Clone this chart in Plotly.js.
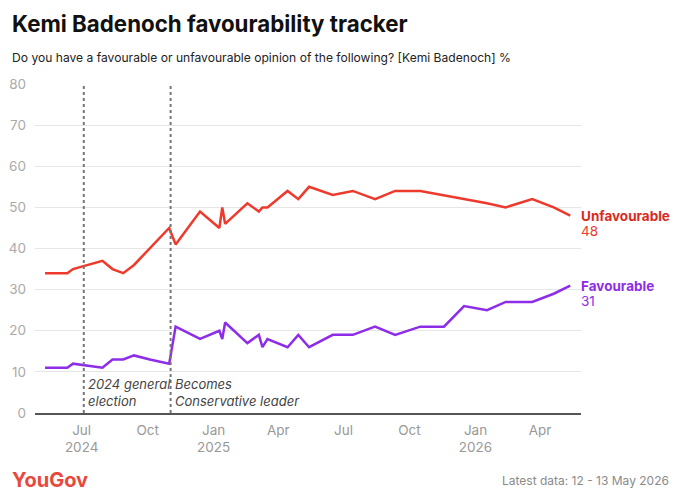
<!DOCTYPE html>
<html>
<head>
<meta charset="utf-8">
<script src="https://cdn.plot.ly/plotly-3.0.1.min.js"></script>
<style>
html,body{margin:0;padding:0;background:#fff;}
#chart{width:680px;height:502px;}
</style>
</head>
<body>
<div id="chart"></div>
<script>
const dates = ['2024-05-11','2024-06-11','2024-06-19','2024-07-30','2024-08-13','2024-08-28','2024-09-12','2024-10-04','2024-10-31','2024-11-09','2024-12-13','2025-01-09','2025-01-13','2025-01-17','2025-02-17','2025-03-05','2025-03-10','2025-03-17','2025-04-14','2025-04-29','2025-05-14','2025-06-16','2025-07-14','2025-08-14','2025-09-11','2025-10-16','2025-11-18','2025-12-16','2026-01-17','2026-02-12','2026-03-21','2026-04-20','2026-05-13'];
const unfavourable = [34,34,35,37,35,34,36,40,45,41,49,45,50,46,51,49,50,50,54,52,55,53,54,52,54,54,53,52,51,50,52,50,48];
const favourable = [11,11,12,11,13,13,14,13,12,21,18,20,18,22,17,19,16,18,16,19,16,19,19,21,19,21,21,26,25,27,27,29,31];
const tickDates = ['2024-07-01','2024-10-01','2025-01-01','2025-04-01','2025-07-01','2025-10-01','2026-01-01','2026-04-01'];
const tickLabels = ['Jul<br>2024','Oct','Jan<br>2025','Apr','Jul','Oct','Jan<br>2026','Apr'];
const events = ['2024-07-04','2024-11-02'];
const eventLabels = ['2024 general<br>election','Becomes<br>Conservative leader'];
const seriesNames = ['Unfavourable','Favourable'];

const RED = '#EE3A2C', PURPLE = '#8E2DE8';
const FONT = 'Inter, "Noto Sans", sans-serif';

const traces = [
  {x: dates, y: unfavourable, name: seriesNames[0], mode: 'lines', line: {color: RED, width: 2.5}},
  {x: dates, y: favourable, name: seriesNames[1], mode: 'lines', line: {color: PURPLE, width: 2.5}}
];

const lastI = dates.length - 1;
const annotations = [
  {xref:'paper', yref:'paper', x:-0.045, y:1.185, xanchor:'left', yanchor:'middle', showarrow:false,
   text:'<b>Kemi Badenoch favourability tracker</b>', font:{family:FONT, size:22.3, color:'#111'}},
  {xref:'paper', yref:'paper', x:-0.045, y:1.082, xanchor:'left', yanchor:'middle', showarrow:false,
   text:'Do you have a favourable or unfavourable opinion of the following? [Kemi Badenoch] %', font:{family:FONT, size:12.1, color:'#222'}},
  {x: dates[lastI], y: unfavourable[lastI], xanchor:'left', yanchor:'middle', xshift:9, showarrow:false,
   text:'<b>'+seriesNames[0]+'</b>', font:{family:FONT, size:13.5, color:'#D92A1E'}},
  {x: dates[lastI], y: unfavourable[lastI], xanchor:'left', yanchor:'middle', xshift:9, yshift:-15, showarrow:false,
   text:String(unfavourable[lastI]), font:{family:FONT, size:13.5, color:RED}},
  {x: dates[lastI], y: favourable[lastI], xanchor:'left', yanchor:'middle', xshift:9, showarrow:false,
   text:'<b>'+seriesNames[1]+'</b>', font:{family:FONT, size:13.5, color:PURPLE}},
  {x: dates[lastI], y: favourable[lastI], xanchor:'left', yanchor:'middle', xshift:9, yshift:-15, showarrow:false,
   text:String(favourable[lastI]), font:{family:FONT, size:13.5, color:PURPLE}},
  {xref:'paper', yref:'paper', x:-0.045, y:-0.204, xanchor:'left', yanchor:'middle', showarrow:false,
   text:'<b>YouGov</b>', font:{family:FONT, size:20, color:'#E8493C'}},
  {xref:'paper', yref:'paper', x:1.165, y:-0.204, xanchor:'right', yanchor:'middle', showarrow:false,
   text:'Latest data: 12 - 13 May 2026', font:{family:FONT, size:12, color:'#8a8a8a'}}
];
events.forEach((d,i)=>{
  annotations.push({x:d, y:0, yref:'y', xanchor:'left', yanchor:'bottom', xshift:2, yshift:2, showarrow:false,
    align:'left', text:'<i>'+eventLabels[i]+'</i>', font:{family:FONT, size:13, color:'#444'}});
});

const shapes = events.map(d=>({type:'line', xref:'x', yref:'y', x0:d, x1:d, y0:0, y1:80,
  line:{color:'#777', width:2, dash:'dot'}, layer:'above'}));

const layout = {
  width:680, height:502,
  margin:{l:35, r:99, t:84, b:89},
  paper_bgcolor:'#fff', plot_bgcolor:'#fff',
  showlegend:false,
  font:{family:FONT, color:'#999'},
  xaxis:{type:'date', range:['2024-04-27','2026-05-28'], tickvals:tickDates, ticktext:tickLabels,
    showgrid:false, showline:true, linecolor:'#555', linewidth:1.5, ticks:'', ticklabelstandoff:4,
    tickfont:{family:FONT, size:13.5, color:'#999'}, zeroline:false, fixedrange:true},
  yaxis:{range:[0,80], tickvals:[0,10,20,30,40,50,60,70,80], showgrid:true, gridcolor:'#e6e6e6', gridwidth:1,
    zeroline:false, showline:false, ticks:'', ticklabelstandoff:8,
    tickfont:{family:FONT, size:13.5, color:'#aaa'}, fixedrange:true},
  annotations: annotations,
  shapes: shapes
};

Plotly.newPlot('chart', traces, layout, {displayModeBar:false, staticPlot:true});
</script>
</body>
</html>
